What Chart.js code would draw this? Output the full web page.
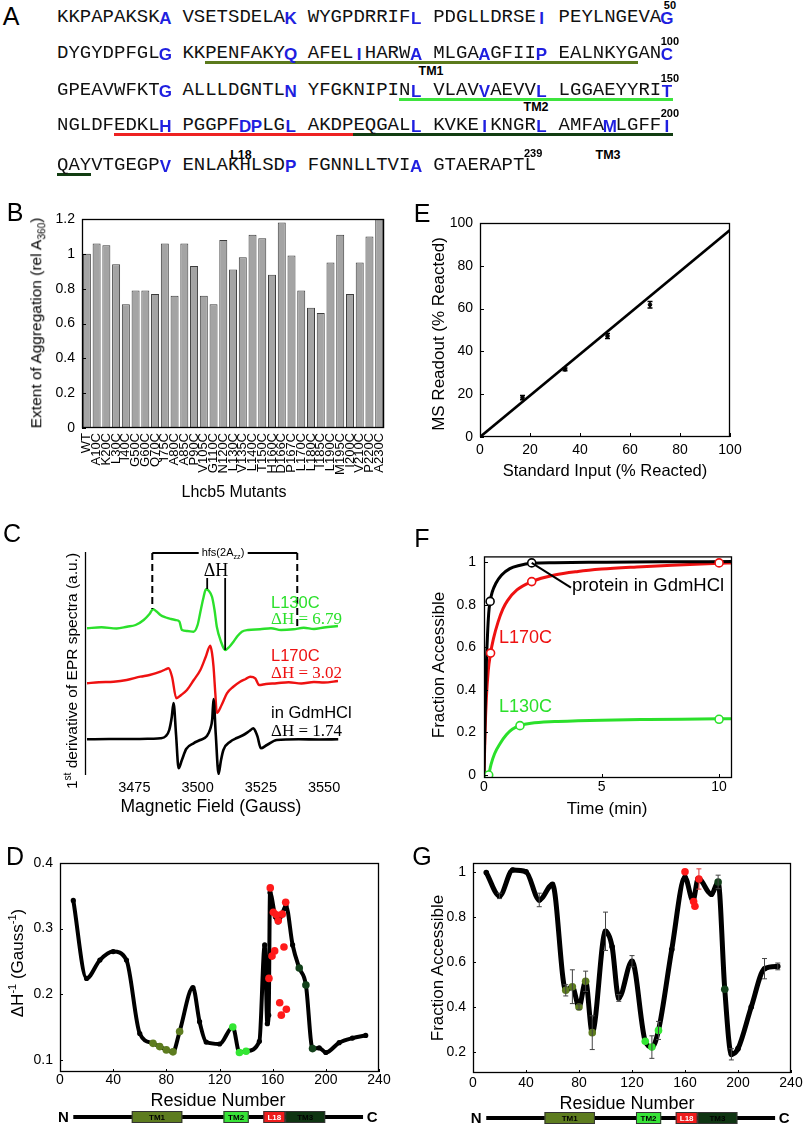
<!DOCTYPE html>
<html><head><meta charset="utf-8"><title>Lhcb5 folding figure</title>
<script src="https://cdn.jsdelivr.net/npm/chart.js@4.4.1/dist/chart.umd.min.js"></script>
<style>
html,body{margin:0;padding:0;background:#fff}
#page{position:relative;width:805px;height:1129px;overflow:hidden;background:#fff;font-family:"Liberation Sans",Arial,sans-serif;color:#000}
#page canvas{position:absolute;z-index:1}
.t{position:absolute;white-space:nowrap;line-height:1;z-index:3}
.c{transform:translate(-50%,-50%)}
.l{transform:translate(0,-50%)}
.v{transform:translate(-50%,-50%) rotate(-90deg)}
.lett{font-size:25px}
sub,sup{font-size:65%;line-height:0}
.ser{font-family:"Liberation Serif","Times New Roman",serif}
.bl{font-weight:bold}
</style></head><body><div id="page">
<canvas id="cB"></canvas><canvas id="cE"></canvas><canvas id="cC"></canvas>
<canvas id="cF"></canvas><canvas id="cD"></canvas><canvas id="cG"></canvas>

<div class="t c lett" style="left:11px;top:16px">A</div>
<div class="t c lett" style="left:15px;top:212px">B</div>
<div class="t c lett" style="left:12px;top:533px">C</div>
<div class="t c lett" style="left:15px;top:856px">D</div>
<div class="t c lett" style="left:422px;top:213px">E</div>
<div class="t c lett" style="left:422px;top:538px">F</div>
<div class="t c lett" style="left:422px;top:856px">G</div>

<div class="t c bl" style="left:431px;top:71px;font-size:12.5px">TM1</div>
<div class="t c bl" style="left:536px;top:107px;font-size:12.5px">TM2</div>
<div class="t c bl" style="left:241px;top:155px;font-size:12.5px">L18</div>
<div class="t c bl" style="left:608px;top:155px;font-size:12.5px">TM3</div>

<div class="t v" style="left:36px;top:323px;font-size:15.5px">Extent of Aggregation (rel A<sub>360</sub>)</div>
<div class="t c" style="left:234px;top:492px;font-size:16px">Lhcb5 Mutants</div>
<div class="t v" style="left:72px;top:671px;font-size:15.5px">1<sup>st</sup> derivative of EPR spectra (a.u.)</div>
<div class="t c" style="left:211px;top:807px;font-size:17.5px">Magnetic Field (Gauss)</div>
<div class="t v" style="left:17px;top:963px;font-size:17px">ΔH<sup>-1</sup> (Gauss<sup>-1</sup>)</div>
<div class="t c" style="left:218px;top:1100px;font-size:18px">Residue Number</div>
<div class="t v" style="left:438px;top:334px;font-size:17px">MS Readout (% Reacted)</div>
<div class="t c" style="left:605px;top:470px;font-size:16.5px">Standard Input (% Reacted)</div>
<div class="t v" style="left:438px;top:665px;font-size:17px">Fraction Accessible</div>
<div class="t c" style="left:607px;top:808px;font-size:17px">Time (min)</div>
<div class="t v" style="left:437px;top:968px;font-size:17px">Fraction Accessible</div>
<div class="t c" style="left:627px;top:1103px;font-size:18px">Residue Number</div>

<div class="t c" style="left:223px;top:552px;font-size:11px;background:#fff;padding:0 3px">hfs(2A<sub>zz</sub>)</div>
<div class="t c ser" style="left:216px;top:570px;font-size:18px">ΔH</div>
<div class="t l" style="left:271px;top:602px;font-size:16.5px;color:#2be02b">L130C</div>
<div class="t l ser" style="left:271px;top:618px;font-size:17px;color:#2be02b">ΔH = 6.79</div>
<div class="t l" style="left:271px;top:655px;font-size:16.5px;color:#ee1111">L170C</div>
<div class="t l ser" style="left:271px;top:672px;font-size:17px;color:#ee1111">ΔH = 3.02</div>
<div class="t l" style="left:271px;top:712px;font-size:16.5px">in GdmHCl</div>
<div class="t l ser" style="left:271px;top:730px;font-size:17px">ΔH = 1.74</div>

<div class="t l" style="left:572px;top:585px;font-size:18.5px">protein in GdmHCl</div>
<div class="t l" style="left:499px;top:637px;font-size:18px;color:#ee1111">L170C</div>
<div class="t l" style="left:499px;top:706px;font-size:18px;color:#2be02b">L130C</div>
</div>
<script>
// ================= DATA =================
// Panel A: sequence
const seqLines = [
  "KKPAPAKSKAVSETSDELAKWYGPDRRIFLPDGLLDRSEIPEYLNGEVAG",
  "DYGYDPFGLGKKPENFAKYQAFELIHARWAMLGAAGFIIPEALNKYGANC",
  "GPEAVWFKTGALLLDGNTLNYFGKNIPINLVLAVVAEVVLLGGAEYYRIT",
  "NGLDFEDKLHPGGPFDPLGLAKDPEQGALLKVKEIKNGRLAMFAMLGFFI",
  "QAYVTGEGPVENLAKHLSDPFGNNLLTVIAGTAERAPTL"
];
const blueResidues = [10,20,30,40,50,60,70,75,80,85,90,100,110,120,130,135,140,150,160,166,167,170,180,185,190,195,200,210,220,230];
const lineEndNumbers = ["50","100","150","200","239"];
const segNames = ["TM1","TM2","L18","TM3"];
const segStart = [63,129,156,175];
const segEnd = [97,150,174,203];

// Panel B
const mutants = ["WT","A10C","K20C","L30C","I40C","G50C","G60C","Q70C","I75C","A80C","A85C","P90C","V105C","G110C","N120C","L130C","V135C","L140C","T150C","H160C","D166C","P167C","L170C","L180C","I185C","L190C","M195C","I200C","V210C","P220C","A230C"];
const aggregation = [1.0,1.06,1.05,0.94,0.71,0.79,0.79,0.77,1.06,0.76,1.06,0.93,0.76,0.71,1.08,0.91,0.98,1.11,1.09,0.88,1.18,0.99,0.79,0.69,0.66,0.95,1.11,0.77,0.95,1.10,1.2];
const bTicks = [0,0.2,0.4,0.6,0.8,1,1.2];

// Panel C: EPR spectra (field in Gauss, signal in a.u.)
const greenField = [3456.3,3462,3468,3472.1,3475.5,3478.7,3481,3482.4,3483.8,3485.3,3487.5,3489.5,3491.2,3492.8,3493.8,3496,3498.4,3500,3501,3502.2,3503.3,3504.5,3505.7,3506.7,3507.6,3509.3,3510.9,3512.5,3514.2,3515.8,3517.5,3520,3524.7,3529,3533,3537.9,3542,3546,3550,3555.5];
const greenSignal = [146.7,147.8,146.5,148.3,150,155,161,165.7,163.5,160,157.5,156,155,153.5,145,144,143.3,150,161.7,176,185.7,184,178.3,165,148.3,133,125,128,133.3,139,143.3,145,145.7,146.8,145,145.7,147.2,146,147.5,149];
const redField = [3456.3,3461,3466.8,3472,3477.4,3481,3485.3,3487.2,3488.5,3489.9,3491.6,3493.5,3495.8,3498.5,3501.1,3503.2,3505,3505.7,3506.3,3507,3507.6,3509.5,3511.6,3514,3516.8,3519,3520.8,3522.8,3524.3,3527,3531.3,3536,3541,3546,3550,3555.5];
const redSignal = [91.7,92.8,93.3,95,98.3,100,103.3,105.5,106.7,98.3,76.7,80,85,95,105,118,129.3,122,108.3,82,62,70,81.7,88,93.3,96,98.3,96.7,90,91,91.7,92.8,91.5,93,92.5,94];
const blackField = [3456.3,3465,3475,3482,3485.3,3487.5,3488.8,3489.8,3490.5,3491.5,3492.5,3493.8,3495.5,3498.4,3501,3503.7,3505,3505.8,3506.3,3507.2,3508.3,3509.2,3510.2,3512.9,3515.5,3518.1,3520.5,3522.1,3523,3523.7,3525,3527.4,3531.3,3540,3548,3555.6];
const blackSignal = [35.7,36,36,36.3,36.7,39,45,58,72,40,6.7,15,26,31.7,35,39,46,56,76,40,1,14,25,33.3,37,40,44,46.7,43,38.3,26.7,30,35,35.7,35.5,35.7];
const cFieldTicks = [3475,3500,3525,3550];
const hfsField = [3482.1,3539.4];
const hfsLow = [166,146];
const hfsTop = 222;
const dHField = [3503.8,3510.9];
const dHLow = [186,125];
const dHTop = 197;

// Panel D: EPR inverse linewidth
const dRes = [10,20,30,40,50,60,70,75,80,85,90,100,105,110,120,130,135,140,150,154,156,157,158,162,164,167,170,175,180,185,190,195,200,210,220,230];
const dVal = [0.343,0.224,0.252,0.265,0.252,0.14,0.125,0.12,0.115,0.112,0.143,0.21,0.158,0.127,0.124,0.15,0.111,0.113,0.128,0.275,0.155,0.168,0.355,0.318,0.31,0.322,0.335,0.275,0.24,0.214,0.117,0.118,0.111,0.126,0.133,0.137];
const dCls = ["k","k","k","k","k","k","o","o","o","o","o","k","k","k","k","g","g","g","k","k","k","k","k","k","k","k","k","k","d","d","d","k","k","k","k","k"];
const dRedRes = [157.2,158.2,159.5,160.5,161.5,162.7,164.2,165.3,166.5,167.2,168.5,169.8,170.3];
const dRedVal = [0.224,0.362,0.258,0.325,0.266,0.321,0.312,0.187,0.168,0.322,0.272,0.340,0.177];
const resTicks = [0,40,80,120,160,200,240];
const dTicks = [0.1,0.2,0.3,0.4];

// Panel E
const eInput = [17,34,51,68];
const eReadout = [18.4,31.6,47.2,61.8];
const eErr = [1.0,0.7,1.2,1.5];
const eFitX = [0,100];
const eFitY = [0,96.7];
const eTicks = [0,20,40,60,80,100];

// Panel F
const fBlackT = [0,0.05,0.1,0.15,0.2,0.26,0.35,0.5,0.75,1.1,1.5,2.03,3,5,7.5,10.55];
const fBlackV = [0,0.3,0.52,0.66,0.76,0.816,0.86,0.9,0.94,0.97,0.985,0.995,0.998,1.0,1.002,1.003];
const fRedT = [0,0.05,0.1,0.18,0.28,0.4,0.6,0.8,1.0,1.4,2.03,3,4,5,6.5,8,10,10.55];
const fRedV = [0,0.22,0.36,0.49,0.573,0.64,0.72,0.78,0.82,0.87,0.909,0.94,0.957,0.968,0.978,0.986,0.995,0.997];
const fGreenT = [0.2,0.3,0.45,0.68,0.96,1.2,1.53,2,3,4,5,7,10,10.55];
const fGreenV = [0,0.05,0.1,0.147,0.19,0.215,0.232,0.243,0.251,0.255,0.258,0.261,0.264,0.265];
const fBlackMT = [0.26,2.03], fBlackMV = [0.816,0.997];
const fRedMT = [0.28,2.03,10], fRedMV = [0.573,0.909,0.997];
const fGreenMT = [0.2,1.53,10], fGreenMV = [0,0.232,0.262];
const fLeader = [[2.03,0.997],[3.7,0.881]];
const fXTicks = [0,5,10];
const fYTicks = [0,0.2,0.4,0.6,0.8,1];

// Panel G
const gRes = [10,20,30,40,50,60,70,75,80,85,90,100,105,110,120,130,135,140,150,160,166,170,180,185,190,195,200,210,220,230];
const gVal = [0.997,0.893,1.008,1.0,0.875,0.944,0.474,0.49,0.40,0.514,0.286,0.736,0.667,0.44,0.603,0.248,0.222,0.296,0.655,0.975,0.872,0.97,0.90,0.955,0.479,0.19,0.215,0.40,0.57,0.58];
const gErr = [0,0.012,0,0,0.03,0,0.025,0.075,0.012,0.045,0.075,0.085,0,0.015,0.025,0,0.05,0.04,0,0,0,0,0,0.03,0,0.025,0,0,0.045,0.015];
const gCls = ["k","k","k","k","k","k","o","o","o","o","o","k","k","k","k","g","g","g","k","k","k","k","k","d","d","k","k","k","k","k"];
const gRedRes = [160,166.5,167.5,170.5];
const gRedVal = [1.0,0.868,0.847,0.968];
const gRedErr = [0,0,0,0.045];
const gTicks = [0.2,0.4,0.6,0.8,1];

// Domain schematic (residue ranges)
const domainNames = ["TM1","TM2","L18","TM3"];
const domainStart = [54,123,153,169.5];
const domainEnd = [92,142,169.5,199.5];
const chainRange = [10,228];

// ================= STYLES =================
const FONT = '"Liberation Sans", Arial, sans-serif';
const CLS = {k:'#000000', o:'#5d7c1f', g:'#33e633', d:'#12401a'};
const SEG_COLORS = ['#5b7a1c','#3ee43e','#ee2222','#123d12'];
const DOMAIN_COLORS = ['#5d7c1f','#37e337','#ee1c1c','#0f3512'];
const DOMAIN_TEXT = ['#000','#000','#fff','#000'];

// ================= PANEL A (text) =================
const page = document.getElementById('page');
const lineY = [17,53,90,125,165];
const charW = 11.4, seqX0 = 57;
function cellLeft(r){ const i=(r-1)%50; return seqX0 + (i+Math.floor(i/10))*charW; }
function addDiv(cls, style, html){ const d=document.createElement('div'); d.className=cls; d.setAttribute('style',style); d.innerHTML=html; page.appendChild(d); return d; }
seqLines.forEach((ln,L)=>{
  for(let k=0;k<ln.length;k++){
    const r = L*50+k+1; const x = cellLeft(r);
    if(blueResidues.includes(r)){
      addDiv('t c','left:'+(x+charW/2)+'px;top:'+(lineY[L]+0.5)+'px;font-weight:bold;font-size:17px;color:#1f1fe0;',ln[k]);
    } else {
      addDiv('t l','left:'+x+'px;top:'+lineY[L]+'px;font-family:"Liberation Mono",monospace;font-size:19px;color:#111;',ln[k]);
    }
  }
  const last = L*50+ln.length;
  addDiv('t c','left:'+(cellLeft(last)+charW/2+3)+'px;top:'+(lineY[L]-12)+'px;font-weight:bold;font-size:11px;',lineEndNumbers[L]);
});
segNames.forEach((n,i)=>{
  for(let L=0;L<seqLines.length;L++){
    const a=Math.max(segStart[i],L*50+1), b=Math.min(segEnd[i],L*50+50);
    if(a>b) continue;
    const x1=cellLeft(a), x2=cellLeft(b)+charW;
    const d=document.createElement('div');
    d.setAttribute('style','position:absolute;z-index:2;left:'+x1+'px;width:'+(x2-x1)+'px;top:'+(lineY[L]+8)+'px;height:3px;background:'+SEG_COLORS[i]);
    page.appendChild(d);
  }
});

// ================= PLUGINS =================
const framePlugin = {id:'frame', afterDraw(chart,args,o){
  if(!o||!o.show) return; const {ctx,chartArea:a}=chart; ctx.save(); ctx.strokeStyle='#000'; ctx.lineWidth=o.width||1.3;
  if(o.leftOnly){ ctx.beginPath(); ctx.moveTo(a.left+0.5,a.top+2); ctx.lineTo(a.left+0.5,a.bottom); ctx.stroke(); }
  else ctx.strokeRect(a.left+0.5,a.top+0.5,a.right-a.left-1,a.bottom-a.top-1);
  ctx.restore(); }};
const innerTicksPlugin = {id:'innerTicks', afterDraw(chart,args,o){
  if(!o||!o.len) return; const {ctx,chartArea:a}=chart; const x=chart.scales.x, y=chart.scales.y;
  ctx.save(); ctx.strokeStyle='#000'; ctx.lineWidth=1; ctx.beginPath();
  if(o.x!==false) x.ticks.forEach(t=>{const p=Math.round(x.getPixelForValue(t.value))+0.5; ctx.moveTo(p,a.bottom); ctx.lineTo(p,a.bottom-o.len);});
  if(o.y!==false) y.ticks.forEach(t=>{const p=Math.round(y.getPixelForValue(t.value))+0.5; ctx.moveTo(a.left,p); ctx.lineTo(a.left+o.len,p);});
  ctx.stroke(); ctx.restore(); }};
const errorBarsPlugin = {id:'errorBars', afterDatasetsDraw(chart){
  const {ctx}=chart; const x=chart.scales.x, y=chart.scales.y;
  chart.data.datasets.forEach(ds=>{ if(!ds.errors) return;
    ctx.save(); ctx.strokeStyle=ds.errorColor||'#000'; ctx.lineWidth=ds.errorWidth||1.2;
    ds.data.forEach((p,j)=>{ const e=ds.errors[j]; if(!e) return;
      const px=x.getPixelForValue(p.x), y1=y.getPixelForValue(p.y+e), y2=y.getPixelForValue(p.y-e), c=ds.capHalf||2.5;
      ctx.beginPath(); ctx.moveTo(px,y1); ctx.lineTo(px,y2); ctx.moveTo(px-c,y1); ctx.lineTo(px+c,y1); ctx.moveTo(px-c,y2); ctx.lineTo(px+c,y2); ctx.stroke(); });
    ctx.restore(); }); }};
const domainsPlugin = {id:'domains', afterDraw(chart,args,o){
  if(!o||!o.y) return; const {ctx}=chart; const x=chart.scales.x; const y=o.y;
  const x1=x.getPixelForValue(chainRange[0]), x2=x.getPixelForValue(chainRange[1]);
  ctx.save(); ctx.strokeStyle='#000'; ctx.lineWidth=4; ctx.beginPath(); ctx.moveTo(x1,y); ctx.lineTo(x2,y); ctx.stroke();
  ctx.fillStyle='#000'; ctx.font='bold 15px '+FONT; ctx.textAlign='center'; ctx.textBaseline='middle';
  ctx.fillText('N',x1-10,y+1); ctx.fillText('C',x2+9,y+1);
  domainNames.forEach((n,i)=>{ const a=x.getPixelForValue(domainStart[i]), b=x.getPixelForValue(domainEnd[i]);
    ctx.fillStyle=DOMAIN_COLORS[i]; ctx.fillRect(a,y-6,b-a,12);
    ctx.strokeStyle='#333'; ctx.lineWidth=1; ctx.strokeRect(a+0.5,y-5.5,b-a-1,11);
    ctx.fillStyle=DOMAIN_TEXT[i]; ctx.font='bold 8px '+FONT; ctx.fillText(n,(a+b)/2,y+0.5); });
  ctx.restore(); }};
Chart.register(framePlugin, innerTicksPlugin, errorBarsPlugin, domainsPlugin);
Chart.defaults.font.family = FONT;
Chart.defaults.color = '#000';

// ================= HELPERS =================
function lin(min,max,ticks,pad,size){
  return {type:'linear',min,max,
    afterBuildTicks: s=>{ s.ticks = ticks.map(v=>({value:v})); },
    grid:{display:false,drawTicks:false}, border:{display:false},
    ticks:{color:'#000',padding:pad,font:{family:FONT,size:size||14},callback:v=>String(+(+v).toFixed(4))}};
}
function mk(id,box,area,config){
  const cv=document.getElementById(id); cv.width=box.w; cv.height=box.h;
  cv.style.left=box.x+'px'; cv.style.top=box.y+'px';
  const o=config.options;
  o.responsive=false; o.animation=false; o.devicePixelRatio=1; o.maintainAspectRatio=false;
  o.layout={padding:{left:0,top:area.t-box.y,right:box.x+box.w-area.r,bottom:0}};
  o.scales.x.afterFit=s=>{ s.height=box.y+box.h-area.b; };
  o.scales.y.afterFit=s=>{ s.width=area.l-box.x; };
  o.plugins=Object.assign({legend:{display:false},tooltip:{enabled:false}},o.plugins||{});
  return new Chart(cv,config);
}
const pts=(xs,ys)=>xs.map((x,i)=>({x,y:ys[i]}));

// ================= PANEL B =================
mk('cB',{x:0,y:200,w:400,h:300},{l:82,t:219,r:388,b:428},{
  type:'bar',
  data:{labels:mutants,datasets:[{data:aggregation,backgroundColor:'#a4a4a4',borderColor:'#3c3c3c',borderWidth:1,barPercentage:0.82,categoryPercentage:1}]},
  options:{scales:{
    x:{type:'category',grid:{display:false,drawTicks:false},border:{display:false},ticks:{autoSkip:false,maxRotation:90,minRotation:90,padding:5,color:'#000',font:{family:FONT,size:13}}},
    y:lin(0,1.2,bTicks,7)},
    plugins:{frame:{show:true},innerTicks:{len:4,x:false}}}
});

// ================= PANEL E =================
mk('cE',{x:400,y:200,w:405,h:290},{l:480,t:223,r:730,b:437},{
  type:'scatter',
  data:{datasets:[
    {data:pts(eInput,eReadout),errors:eErr,capHalf:2.5,errorWidth:1.5,pointRadius:1.8,pointBackgroundColor:'#000',pointBorderColor:'#000',showLine:false},
    {data:pts(eFitX,eFitY),showLine:true,borderColor:'#000',borderWidth:2.6,pointRadius:0}
  ]},
  options:{scales:{x:lin(0,100,eTicks,5),y:lin(0,100,eTicks,7)},plugins:{frame:{show:true},innerTicks:{len:4}}}
});

// ================= PANEL C =================
const cMarks={id:'cMarks',afterDatasetsDraw(chart){
  const {ctx}=chart; const x=chart.scales.x,y=chart.scales.y; ctx.save(); ctx.strokeStyle='#000'; ctx.lineWidth=1.8;
  ctx.beginPath(); ctx.moveTo(x.getPixelForValue(hfsField[0]),y.getPixelForValue(hfsTop)); ctx.lineTo(x.getPixelForValue(hfsField[1]),y.getPixelForValue(hfsTop)); ctx.stroke();
  ctx.setLineDash([7,4]); ctx.lineWidth=2;
  hfsField.forEach((f,i)=>{ ctx.beginPath(); ctx.moveTo(x.getPixelForValue(f),y.getPixelForValue(hfsTop)); ctx.lineTo(x.getPixelForValue(f),y.getPixelForValue(hfsLow[i])); ctx.stroke(); });
  ctx.setLineDash([]); ctx.lineWidth=1.8;
  dHField.forEach((f,i)=>{ ctx.beginPath(); ctx.moveTo(x.getPixelForValue(f),y.getPixelForValue(dHTop)); ctx.lineTo(x.getPixelForValue(f),y.getPixelForValue(dHLow[i])); ctx.stroke(); });
  ctx.restore(); }};
mk('cC',{x:0,y:540,w:400,h:270},{l:85,t:550,r:339,b:775},{
  type:'scatter',
  data:{datasets:[
    {data:pts(blackField,blackSignal),showLine:true,borderColor:'#000',borderWidth:2.6,pointRadius:0,cubicInterpolationMode:'monotone'},
    {data:pts(redField,redSignal),showLine:true,borderColor:'#ee1111',borderWidth:2.4,pointRadius:0,cubicInterpolationMode:'monotone'},
    {data:pts(greenField,greenSignal),showLine:true,borderColor:'#2be02b',borderWidth:2.4,pointRadius:0,cubicInterpolationMode:'monotone'}
  ]},
  options:{scales:{x:lin(3455.5,3555.9,cFieldTicks,4,14.5),
    y:{type:'linear',min:0,max:225,ticks:{display:false},grid:{display:false,drawTicks:false},border:{display:false}}},
    plugins:{frame:{show:true,leftOnly:true}}},
  plugins:[cMarks]
});

// ================= PANEL F =================
const fLead={id:'fLead',afterDatasetsDraw(chart){
  const {ctx}=chart; const x=chart.scales.x,y=chart.scales.y; ctx.save(); ctx.strokeStyle='#000'; ctx.lineWidth=2;
  ctx.beginPath(); ctx.moveTo(x.getPixelForValue(fLeader[0][0]),y.getPixelForValue(fLeader[0][1])); ctx.lineTo(x.getPixelForValue(fLeader[1][0]),y.getPixelForValue(fLeader[1][1])); ctx.stroke(); ctx.restore(); }};
const openMarker=(c)=>({showLine:false,pointRadius:4,pointBorderWidth:1.6,pointBackgroundColor:'#fff',pointBorderColor:c});
mk('cF',{x:400,y:540,w:405,h:260},{l:484,t:551,r:732,b:778},{
  type:'scatter',
  data:{datasets:[
    Object.assign({data:pts(fBlackMT,fBlackMV)},openMarker('#000')),
    Object.assign({data:pts(fRedMT,fRedMV)},openMarker('#ee1111')),
    Object.assign({data:pts(fGreenMT,fGreenMV)},openMarker('#2be02b')),
    {data:pts(fBlackT,fBlackV),showLine:true,borderColor:'#000',borderWidth:3,pointRadius:0,cubicInterpolationMode:'monotone'},
    {data:pts(fRedT,fRedV),showLine:true,borderColor:'#ee1111',borderWidth:3,pointRadius:0,cubicInterpolationMode:'monotone'},
    {data:pts(fGreenT,fGreenV),showLine:true,borderColor:'#2be02b',borderWidth:3,pointRadius:0,cubicInterpolationMode:'monotone'}
  ]},
  options:{scales:{x:lin(0,10.55,fXTicks,1),y:lin(-0.014,1.0275,fYTicks,8)},plugins:{frame:{show:true},innerTicks:{len:4}}},
  plugins:[fLead]
});

// ================= PANEL D =================
mk('cD',{x:0,y:845,w:400,h:284},{l:60,t:863,r:379,b:1072},{
  type:'scatter',
  data:{datasets:[
    {data:pts(dRedRes,dRedVal),showLine:false,pointRadius:3.8,pointBorderWidth:0,pointBackgroundColor:'#ff1a1a',pointBorderColor:'#ff1a1a'},
    {data:pts(dRes,dVal),showLine:true,borderColor:'#000',borderWidth:4,cubicInterpolationMode:'monotone',
     pointRadius:dCls.map(c=>c==='k'?2.6:3.8),pointBorderWidth:0,pointBackgroundColor:dCls.map(c=>CLS[c]),pointBorderColor:dCls.map(c=>CLS[c])}
  ]},
  options:{scales:{x:lin(0,240,resTicks,0),y:lin(0.0813,0.4,dTicks,7)},plugins:{frame:{show:true},innerTicks:{len:3},domains:{y:272}}}
});

// ================= PANEL G =================
mk('cG',{x:400,y:845,w:405,h:284},{l:473,t:863,r:791,b:1073},{
  type:'scatter',
  data:{datasets:[
    {data:pts(gRedRes,gRedVal),errors:gRedErr,errorColor:'#d33',errorWidth:1,capHalf:2.5,showLine:false,pointRadius:3.8,pointBorderWidth:0,pointBackgroundColor:'#ff1a1a',pointBorderColor:'#ff1a1a'},
    {data:pts(gRes,gVal),errors:gErr,errorColor:'#444',errorWidth:1,capHalf:2.5,showLine:true,borderColor:'#000',borderWidth:5,cubicInterpolationMode:'monotone',
     pointRadius:gCls.map(c=>c==='k'?2.8:3.8),pointBorderWidth:0,pointBackgroundColor:gCls.map(c=>CLS[c]),pointBorderColor:gCls.map(c=>CLS[c])}
  ]},
  options:{scales:{x:lin(0,240,resTicks,2),y:lin(0.107,1.039,gTicks,7)},plugins:{frame:{show:true},innerTicks:{len:3},domains:{y:273}}}
});
</script>
</body></html>
